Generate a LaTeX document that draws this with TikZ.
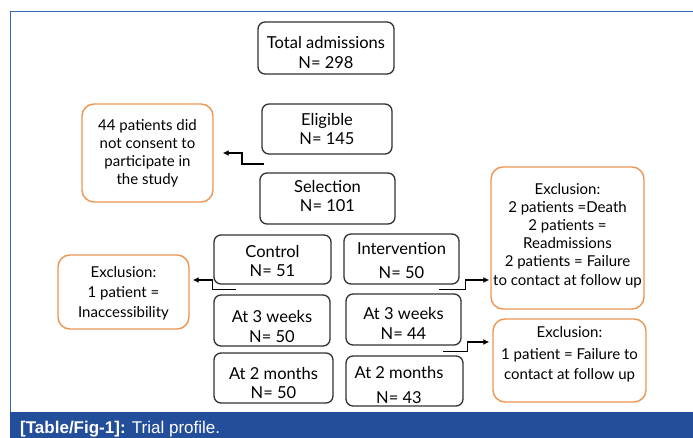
\documentclass[tikz,border=0pt]{standalone}
\usepackage{fontspec}
\setmainfont{Lato}
\newfontfamily\capfont{Liberation Sans}
\usetikzlibrary{calc,arrows.meta}
\definecolor{bandblue}{RGB}{35,78,154}
\definecolor{frameblue}{RGB}{60,100,180}
\definecolor{boxorange}{RGB}{236,150,82}
\definecolor{boxgray}{RGB}{50,50,50}
\tikzset{
  box/.style={draw=boxgray, line width=1.3pt, rounded corners=7pt, inner sep=0pt},
  btxt/.style={align=center, inner sep=0pt, font=\fontsize{16.5}{19.5}\selectfont, text=black},
  obox/.style={draw=boxorange, line width=1.4pt, rounded corners=12pt, inner sep=0pt},
  txt/.style={align=center, inner sep=0pt, font=\fontsize{15}{18}\selectfont, text=black},
  arr/.style={draw=black, line width=1.6pt, -{Latex[length=6pt,width=6pt]}},
}
\begin{document}
\begin{tikzpicture}[x=1pt,y=-1pt]
\useasboundingbox (0,0) rectangle (693,438);
\fill[white] (0,0) rectangle (693,438);
% frame
\draw[frameblue, line width=1pt] (10,412) -- (10,12) -- (693,12);
\fill[bandblue] (10,412) rectangle (693,438);
\node[anchor=base west, inner sep=0pt, text=white, font=\capfont\fontsize{17}{19}\selectfont] (cap) at (20,433)
  {\textbf{[Table/Fig-1]:} Trial profile.};
% main boxes
\node[box, minimum width=136pt, minimum height=52pt] (tot) at (326,48) {};
\node[btxt] (totT) at ($(tot)+(0,4.5)$) {Total admissions\\N= 298};
\node[box, minimum width=130pt, minimum height=50pt] (eli) at (327,129) {};
\node[btxt] (eliT) at (eli) {Eligible\\N= 145};
\node[box, minimum width=135pt, minimum height=51pt] (sel) at (327.5,198.5) {};
\node[btxt] (selT) at ($(sel)+(0,-2.5)$) {Selection\\N= 101};
\node[box, minimum width=117pt, minimum height=49pt] (ctl) at (272.5,259.5) {};
\node[btxt] (ctlT) at ($(ctl)+(0,1.5)$) {Control\\N= 51};
\node[box, minimum width=116pt, minimum height=51pt] (w3l) at (272,320.5) {};
\node[btxt] (w3lT) at ($(w3l)+(0,6)$) {At 3 weeks\\N= 50};
\node[box, minimum width=119pt, minimum height=50pt] (m2l) at (273.5,378) {};
\node[btxt] (m2lT) at ($(m2l)+(0,5)$) {At 2 months\\N= 50};
\node[box, minimum width=115pt, minimum height=50pt] (int) at (401.5,259) {};
\node[btxt] (intT) at ($(int)+(0,1.5)$) {Intervention\\[4pt]N= 50};
\node[box, minimum width=115pt, minimum height=51pt] (w3r) at (403.5,319.5) {};
\node[btxt] (w3rT) at ($(w3r)+(0,4)$) {At 3 weeks\\N= 44};
\node[box, minimum width=117pt, minimum height=50pt] (m2r) at (404.5,381) {};
\node[btxt] (m2rT) at ($(m2r)+(-5.5,4)$) {At 2 months\\[6pt]N= 43};
% orange boxes
\node[obox, minimum width=131pt, minimum height=98pt] (cons) at (147.5,153) {};
\node[txt] (consT) at (cons) {44 patients did\\not consent to\\participate in\\the study};
\node[obox, minimum width=131pt, minimum height=74pt] (exl) at (123.5,292) {};
\node[txt] (exlT) at ($(exl)+(0,1.5)$) {Exclusion:\\[2pt]1 patient =\\[2pt]Inaccessibility};
\node[obox, minimum width=153pt, minimum height=142pt] (ext) at (567.5,238) {};
\node[txt] (extT) at ($(ext)+(0,-2)$)
  {Exclusion:\\2 patients =Death\\2 patients =\\Readmissions\\2 patients = Failure\\[1.5pt]to contact at follow up};
\node[obox, minimum width=153pt, minimum height=83pt] (exb) at (569.5,360.5) {};
\node[txt] (exbT) at ($(exb)+(0,-6)$) {Exclusion:\\[4pt]1 patient = Failure to\\[2pt]contact at follow up};
% connectors
\draw[arr, line width=1.8pt] ($(eli.south west)+(3,9)$) -- ++(-22,0) |- ($(cons.east)+(9,0)$);
\draw[arr, line width=1.3pt] ($(ctl.south west)+(23,5)$) -- ++(-24,0) |- ($(exl.east)+(3,-12)$);
\draw[arr, line width=1.4pt] ($(int.south west)+(96,5)$) -- ++(26,0) |- ($(ext.west)+(-1,42)$);
\draw[arr, line width=1.4pt] ($(w3r.south west)+(98,6)$) -- ++(24,0) |- ($(exb.west)+(-3,-18.5)$);
\end{tikzpicture}
\end{document}
